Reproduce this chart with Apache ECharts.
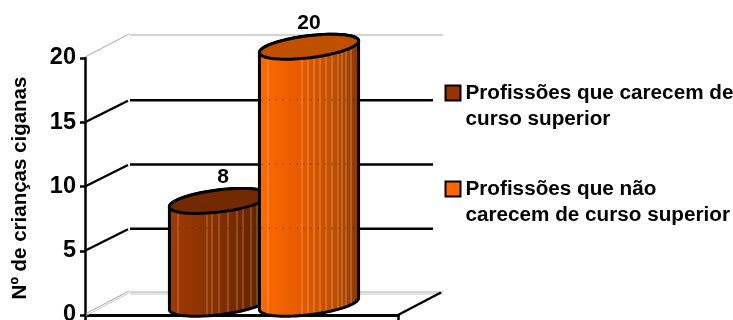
<!DOCTYPE html>
<html>
<head>
<meta charset="utf-8">
<style>html,body{margin:0;padding:0;background:#fff}#chart{width:733px;height:320px}</style>
<script src="https://cdn.jsdelivr.net/npm/echarts@6/dist/echarts.min.js"></script>
</head>
<body>
<div id="chart"></div>
<script>
// Values and labels
const categories = ['Crianças'];
const seriesNames = ['Profissões que carecem de\ncurso superior', 'Profissões que não\ncarecem de curso superior'];
const seriesValues = [8, 20];
const yTicks = [0, 5, 10, 15, 20];
const yTitle = 'Nº de crianças ciganas';

// Oblique projection used for the pseudo-3D box
const DEPTH_X = 45, DEPTH_Y = -22.5;
const FONT = '"Liberation Sans", Arial, sans-serif';

// Cylinder appearance; stripes are px offsets from the left wall
const themes = [
  { base: ['#a03a06', '#8a3200', '#6e2800', '#5a2000'], top: '#732a00', stripe: 'rgba(255,190,140,0.45)',
    stripes: [9, 38, 43, 50, 59, 68, 74, 82, 88], legend: '#993300' },
  { base: ['#ff6a00', '#e65c00', '#bd4e00', '#863600'], top: '#bf5000', stripe: 'rgba(255,200,150,0.5)',
    stripes: [9, 43, 49, 55, 61, 67, 73, 79, 83, 87, 92], legend: '#ff6600' }
];
const SEMI_A = 50, SEMI_B = 11, TILT = 7 * Math.PI / 180, BAR_SHIFT = 45;

function ellipsePoint(cx, cy, t) {
  const ex = SEMI_A * Math.cos(t), ey = SEMI_B * Math.sin(t);
  return [cx + ex * Math.cos(TILT) + ey * Math.sin(TILT), cy - ex * Math.sin(TILT) + ey * Math.cos(TILT)];
}
function arc(cx, cy, from, to) {
  const pts = [];
  for (let i = 0; i <= 48; i++) pts.push(ellipsePoint(cx, cy, from + (to - from) * i / 48));
  return pts;
}

function renderCylinder(seriesIndex) {
  return function (params, api) {
    const value = api.value(1);
    const front = api.coord([0, value]);
    const base = api.coord([0, 0]);
    const cx = front[0] + (seriesIndex ? BAR_SHIFT : -BAR_SHIFT) + DEPTH_X / 2;
    const topY = front[1] + DEPTH_Y / 2;
    const botY = base[1] + DEPTH_Y / 2;
    const th = themes[seriesIndex];
    const leftAngle = Math.PI - Math.atan2(SEMI_B * Math.sin(TILT), SEMI_A * Math.cos(TILT));
    const L = cx - SEMI_A;
    const W = SEMI_A * 2;
    const children = [{
      type: 'polygon',
      shape: { points: arc(cx, topY, leftAngle, leftAngle + Math.PI).concat(arc(cx, botY, leftAngle + Math.PI, leftAngle + 2 * Math.PI)) },
      style: {
        fill: {
          type: 'linear', x: 0, y: 0, x2: 1, y2: 0,
          colorStops: [
            { offset: 0, color: th.base[0] }, { offset: 0.4, color: th.base[1] },
            { offset: 0.75, color: th.base[2] }, { offset: 1, color: th.base[3] }
          ]
        },
        stroke: '#000', lineWidth: 3
      }
    }];
    // Thin light stripes on the cylinder wall
    th.stripes.forEach(function (dx) {
      const x = L + dx;
      const t = Math.acos(Math.max(-1, Math.min(1, (x - cx) / SEMI_A)));
      const yTop = topY + SEMI_B * Math.sin(t) - (x - cx) * Math.tan(TILT);
      const yBot = botY + SEMI_B * Math.sin(t) - (x - cx) * Math.tan(TILT);
      children.push({
        type: 'line',
        shape: { x1: x, y1: yTop, x2: x, y2: yBot - 1.5 },
        style: { stroke: th.stripe, lineWidth: 1 }
      });
    });
    // Grid rows showing faintly through the wall
    yTicks.slice(1).forEach(function (tick) {
      if (tick >= value) return;
      const y = api.coord([0, tick])[1] + DEPTH_Y;
      children.push({
        type: 'line',
        shape: { x1: L + 2, y1: y, x2: L + W - 2, y2: y },
        style: { stroke: 'rgba(60,15,0,0.22)', lineWidth: 2, lineDash: [2, 5] }
      });
    });
    children.push({
      type: 'polygon',
      shape: { points: arc(cx, topY, 0, 2 * Math.PI) },
      style: { fill: th.top, stroke: '#000', lineWidth: 3 }
    });
    children.push({
      type: 'text',
      style: {
        text: String(value), x: cx + (seriesIndex ? 0 : 4), y: topY - 23.5,
        textAlign: 'center', textVerticalAlign: 'middle',
        font: 'bold 21px ' + FONT, fill: '#000'
      }
    });
    return { type: 'group', children: children };
  };
}

// Back wall, side wall and floor of the box, driven by the axis scale
function renderFrame(params, api) {
  const tick = api.value(1);
  const p = api.coord([0, tick]);
  const size = api.size([1, 0]);
  const x0 = p[0] - size[0] / 2;
  const x1 = p[0] + size[0] / 2;
  const children = [];
  const isEdge = tick === yTicks[0] || tick === yTicks[yTicks.length - 1];
  const bx = x0 + DEPTH_X, by = p[1] + DEPTH_Y;
  if (isEdge) {
    [[-1, '#a8a8a8'], [1, '#c8c8c8']].forEach(function (o) {
      if (tick !== 0 && o[0] > 0) return;
      children.push({ type: 'line', shape: { x1: x0 + 1, y1: p[1] + o[0] - 0.5, x2: bx - 1, y2: by + o[0] - 0.5 },
        style: { stroke: o[1], lineWidth: 1 } });
      children.push({ type: 'line', shape: { x1: bx, y1: by + o[0] + 0.5, x2: x1 + DEPTH_X, y2: by + o[0] + 0.5 },
        style: { stroke: o[1], lineWidth: 1 } });
    });
    if (tick === 0) {
      children.push({ type: 'line', shape: { x1: x1, y1: p[1], x2: x1 + DEPTH_X - 2, y2: by },
        style: { stroke: '#000', lineWidth: 2.5 } });
    }
  } else {
    children.push({ type: 'line', shape: { x1: x0, y1: p[1], x2: bx - 2, y2: by + 1 },
      style: { stroke: '#000', lineWidth: 2.5 } });
    children.push({ type: 'line', shape: { x1: bx, y1: by + 0.5, x2: x1 + DEPTH_X - 10, y2: by + 0.5 },
      style: { stroke: '#000', lineWidth: 2.5 } });
  }
  return { type: 'group', children: children };
}

function legendIcon() {
  // Square aligned with the first text line of a two-line entry
  return 'path://M0 0L0 0M0 5.5H15V20.5H0ZM0 52L0 52';
}

const chart = echarts.init(document.getElementById('chart'), null, { renderer: 'canvas' });
chart.setOption({
  animation: false,
  backgroundColor: '#fff',
  grid: { left: 85, right: 335, top: 58, bottom: 5, containLabel: false, outerBoundsMode: 'none' },
  xAxis: {
    type: 'category',
    data: categories,
    boundaryGap: true,
    axisLine: { lineStyle: { color: '#000', width: 3 } },
    axisTick: { show: true, length: 6, lineStyle: { color: '#000', width: 2.5 } },
    axisLabel: { show: false },
    splitLine: { show: false }
  },
  yAxis: {
    type: 'value',
    min: 0, max: 20, interval: 5,
    name: yTitle,
    nameLocation: 'middle',
    nameGap: 54,
    nameTextStyle: { fontFamily: FONT, fontWeight: 'bold', fontSize: 20.5, color: '#000', padding: [0, 3, 0, 0] },
    axisLine: { show: true, lineStyle: { color: '#000', width: 2.5 } },
    axisTick: { show: true, length: 5, lineStyle: { color: '#000', width: 2.5 } },
    axisLabel: { fontFamily: FONT, fontWeight: 'bold', fontSize: 23.5, color: '#000', margin: 9 },
    splitLine: { show: false }
  },
  legend: {
    left: 444.5, top: 79,
    padding: 0,
    orient: 'vertical',
    itemWidth: 15, itemHeight: 52, itemGap: 42,
    selectedMode: false,
    textStyle: { fontFamily: FONT, fontWeight: 'bold', fontSize: 20.7, color: '#000', lineHeight: 26 },
    data: seriesNames.map(function (name, i) {
      return { name: name, icon: legendIcon(),
        itemStyle: { color: themes[i].legend, borderColor: '#000', borderWidth: 2 } };
    })
  },
  series: [
    { type: 'custom', name: 'frame', renderItem: renderFrame, silent: true, clip: false, z: 1,
      data: yTicks.map(function (t) { return [0, t]; }), encode: { x: 0, y: 1 } },
    { type: 'custom', name: seriesNames[0], renderItem: renderCylinder(0), clip: false, z: 2,
      data: [[0, seriesValues[0]]], encode: { x: 0, y: 1 } },
    { type: 'custom', name: seriesNames[1], renderItem: renderCylinder(1), clip: false, z: 3,
      data: [[0, seriesValues[1]]], encode: { x: 0, y: 1 } }
  ]
});
</script>
</body>
</html>
